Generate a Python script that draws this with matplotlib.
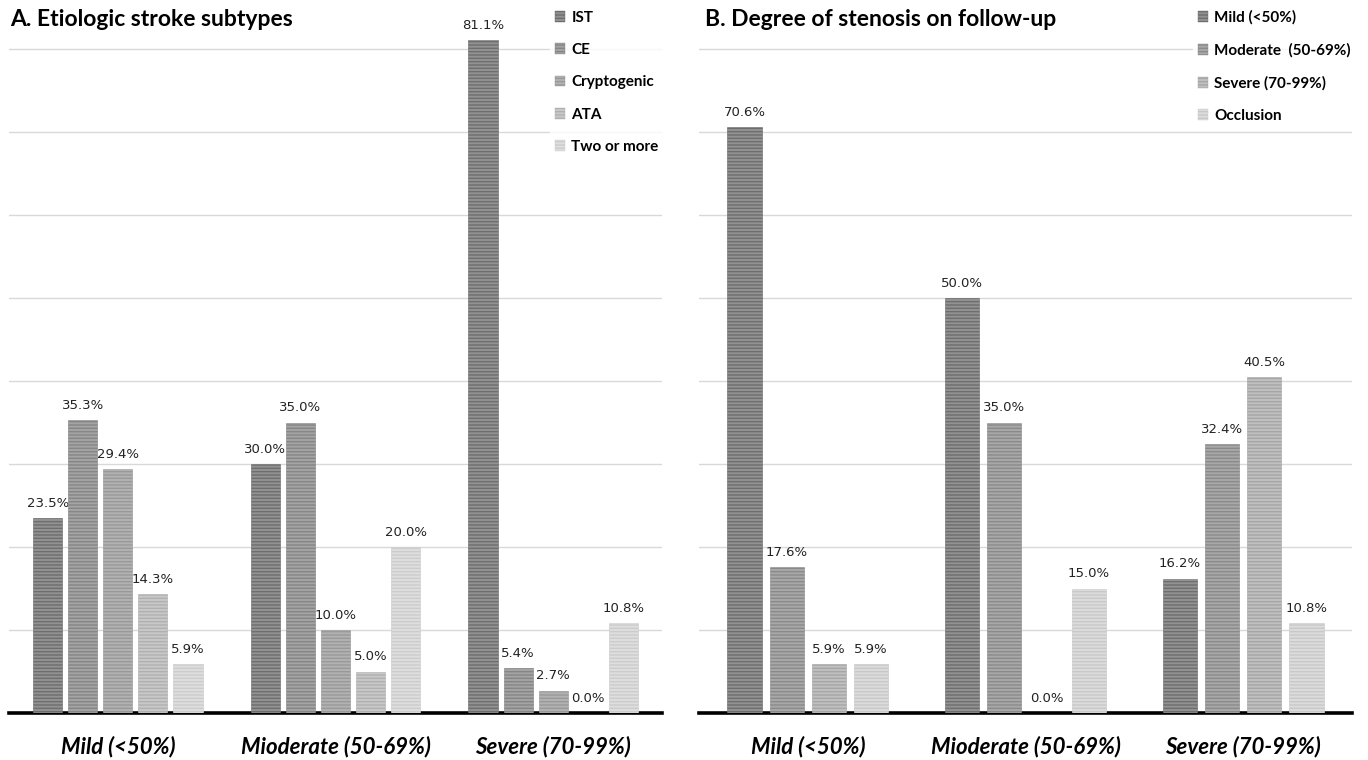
import numpy as np
import matplotlib.pyplot as plt
from matplotlib.patches import Patch

plt.rcParams.update({
    "font.family": ["Lato", "DejaVu Sans"],
    "hatch.linewidth": 1.0,
})

groups = ["Mild (<50%)", "Mioderate (50-69%)", "Severe (70-99%)"]

# panel A: etiologic stroke subtypes (%)
a_labels = ["IST", "CE", "Cryptogenic", "ATA", "Two or more"]
a_ist = [23.5, 30.0, 81.1]
a_ce = [35.3, 35.0, 5.4]
a_crypto = [29.4, 10.0, 2.7]
a_ata = [14.3, 5.0, 0.0]
a_two = [5.9, 20.0, 10.8]

# panel B: degree of stenosis on follow-up (%)
b_labels = ["Mild (<50%)", "Moderate  (50-69%)", "Severe (70-99%)", "Occlusion"]
b_mild = [70.6, 50.0, 16.2]
b_moderate = [17.6, 35.0, 32.4]
b_severe = [5.9, 0.0, 40.5]
b_occl = [5.9, 15.0, 10.8]

a_faces = ["#929292", "#a4a4a4", "#b2b2b2", "#c8c8c8", "#dedede"]
a_hatch = ["#6e6e6e", "#858585", "#999999", "#b0b0b0", "#cccccc"]
b_faces = ["#929292", "#a8a8a8", "#c0c0c0", "#dcdcdc"]
b_hatch = ["#6e6e6e", "#8a8a8a", "#a6a6a6", "#c8c8c8"]


def draw_panel(fig, ax, series, labels, faces, hatches, width, step, title,
               title_x, leg_x):
    x = np.arange(len(groups))
    n = len(series)
    for i, vals in enumerate(series):
        pos = x + (i - (n - 1) / 2) * step
        ax.bar(pos, vals, width, color=faces[i], edgecolor=hatches[i],
               hatch="-----", linewidth=0.4, zorder=3)
        for p, v in zip(pos, vals):
            ax.text(p, v + 1.0, f"{v:.1f}%", ha="center", va="bottom",
                    fontsize=9.5, color="#222222", family="DejaVu Sans")
    ax.set_xlim(-0.5, len(groups) - 0.5)
    ax.set_ylim(0, 85)
    ax.set_yticks(np.arange(10, 81, 10))
    ax.yaxis.grid(True, color="#d9d9d9", linewidth=1.0, zorder=0)
    ax.set_axisbelow(True)
    for s in ["top", "right", "left"]:
        ax.spines[s].set_visible(False)
    ax.spines["bottom"].set_linewidth(2.6)
    ax.spines["bottom"].set_color("black")
    ax.tick_params(axis="y", left=False, labelleft=False)
    ax.tick_params(axis="x", bottom=False, pad=13)
    ax.set_xticks(x)
    ax.set_xticklabels(groups, fontsize=16, fontweight="bold", style="italic")
    fig.text(title_x, 1 - 19 / 760, title, fontsize=16.5, fontweight="bold",
             ha="left", va="center")
    handles = [Patch(facecolor=faces[i], edgecolor=hatches[i], hatch="-----",
                     linewidth=0.3) for i in range(n)]
    leg = ax.legend(handles, labels, loc="upper left",
                    bbox_to_anchor=(leg_x, 1 - 6 / 760),
                    bbox_transform=fig.transFigure, frameon=True,
                    handlelength=0.7, handleheight=0.7, handletextpad=0.4,
                    labelspacing=1.2, borderaxespad=0, borderpad=0.3,
                    prop={"weight": "bold", "size": 11})
    leg.get_frame().set_facecolor("white")
    leg.get_frame().set_edgecolor("white")
    leg.set_zorder(5)


fig = plt.figure(figsize=(13.68, 7.6), dpi=100)
ax_a = fig.add_axes([9 / 1368, 47 / 760, 653 / 1368, 705 / 760])
ax_b = fig.add_axes([699 / 1368, 47 / 760, 653 / 1368, 705 / 760])

draw_panel(fig, ax_a, [a_ist, a_ce, a_crypto, a_ata, a_two], a_labels,
           a_faces, a_hatch, 0.134, 0.161, "A. Etiologic stroke subtypes",
           10 / 1368, 550 / 1368)
draw_panel(fig, ax_b, [b_mild, b_moderate, b_severe, b_occl], b_labels,
           b_faces, b_hatch, 0.157, 0.194, "B. Degree of stenosis on follow-up",
           705 / 1368, 1193 / 1368)

fig.savefig("out.png", dpi=100)
